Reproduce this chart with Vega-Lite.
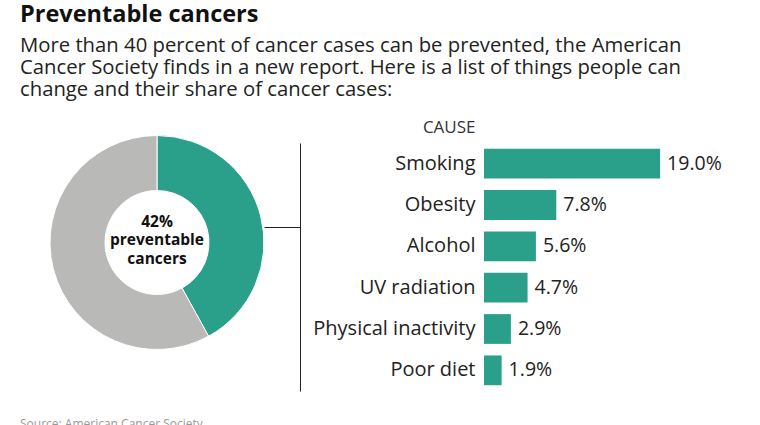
{
  "$schema": "https://vega.github.io/schema/vega-lite/v6.json",
  "background": "white",
  "padding": {"left": 20, "top": 3, "right": 5, "bottom": 0},
  "config": {"view": {"stroke": null}, "font": "Open Sans"},
  "bounds": "flush",
  "spacing": 190,
  "title": {
    "text": "Preventable cancers",
    "subtitle": [
      "More than 40 percent of cancer cases can be prevented, the American",
      "Cancer Society finds in a new report. Here is a list of things people can",
      "change and their share of cancer cases:"
    ],
    "anchor": "start",
    "frame": "group",
    "font": "Open Sans",
    "fontSize": 23.5,
    "fontWeight": "bold",
    "color": "#111111",
    "subtitleFont": "Open Sans",
    "subtitleFontSize": 20.3,
    "subtitleColor": "#222222",
    "subtitleLineHeight": 22,
    "subtitlePadding": 9,
    "offset": 18
  },
  "hconcat": [
    {
      "width": 274,
      "height": 199,
      "data": {"values": [
        {"segment": "preventable", "share": 42, "order": 1},
        {"segment": "other", "share": 58, "order": 2}
      ]},
      "title": {
        "text": "Source: American Cancer Society",
        "orient": "bottom",
        "anchor": "start",
        "frame": "group",
        "font": "Open Sans",
        "fontSize": 12,
        "fontWeight": "normal",
        "color": "#999999",
        "offset": 67
      },
      "layer": [
        {
          "mark": {"type": "arc", "outerRadius": 107, "innerRadius": 52, "stroke": "white", "strokeWidth": 1},
          "encoding": {
            "theta": {"field": "share", "type": "quantitative", "stack": true},
            "order": {"field": "order", "type": "quantitative"},
            "color": {
              "field": "segment",
              "type": "nominal",
              "scale": {"domain": ["preventable", "other"], "range": ["#2a9f89", "#b9b9b7"]},
              "legend": null
            }
          }
        },
        {
          "data": {"values": [{"label": "42%\npreventable\ncancers"}]},
          "mark": {"type": "text", "font": "Open Sans", "fontWeight": "bold", "fontSize": 15.5, "lineHeight": 18.5, "lineBreak": "\n", "color": "#111111", "baseline": "middle", "dy": -21},
          "encoding": {"text": {"field": "label", "type": "nominal"}}
        }
      ]
    },
    {
      "width": 241,
      "height": 248,
      "data": {"values": [
        {"cause": "Smoking", "pct": 0.19},
        {"cause": "Obesity", "pct": 0.078},
        {"cause": "Alcohol", "pct": 0.056},
        {"cause": "UV radiation", "pct": 0.047},
        {"cause": "Physical inactivity", "pct": 0.029},
        {"cause": "Poor diet", "pct": 0.019}
      ]},
      "layer": [
        {
          "mark": {"type": "bar", "color": "#2a9f89"},
          "encoding": {
            "x": {"field": "pct", "type": "quantitative", "scale": {"domain": [0, 0.25]}, "axis": null},
            "y": {
              "field": "cause",
              "type": "nominal",
              "sort": null,
              "scale": {"paddingInner": 0.28, "paddingOuter": 0.14},
              "axis": {
                "title": "CAUSE",
                "titleAngle": 0,
                "titleAlign": "right",
                "titleBaseline": "alphabetic",
                "titleX": -9,
                "titleY": -11,
                "titleFont": "Open Sans",
                "titleFontSize": 17,
                "titleFontWeight": "normal",
                "titleColor": "#333333",
                "labelFont": "Open Sans",
                "labelFontSize": 20,
                "labelColor": "#222222",
                "labelPadding": 9,
                "domain": false,
                "ticks": false
              }
            }
          }
        },
        {
          "mark": {"type": "text", "align": "left", "baseline": "middle", "dx": 7, "font": "Open Sans", "fontSize": 19.5, "color": "#222222"},
          "encoding": {
            "x": {"field": "pct", "type": "quantitative", "axis": null},
            "y": {
              "field": "cause",
              "type": "nominal",
              "sort": null,
              "axis": {
                "orient": "left",
                "offset": 184,
                "title": null,
                "labels": false,
                "domain": true,
                "domainColor": "#222222",
                "domainWidth": 1,
                "ticks": true,
                "values": ["Obesity"],
                "tickSize": 36,
                "tickColor": "#222222",
                "tickWidth": 1,
                "bandPosition": 1.24,
                "grid": false
              }
            },
            "text": {"field": "pct", "type": "quantitative", "format": ".1%"}
          }
        }
      ],
      "resolve": {"axis": {"y": "independent"}}
    }
  ]
}
